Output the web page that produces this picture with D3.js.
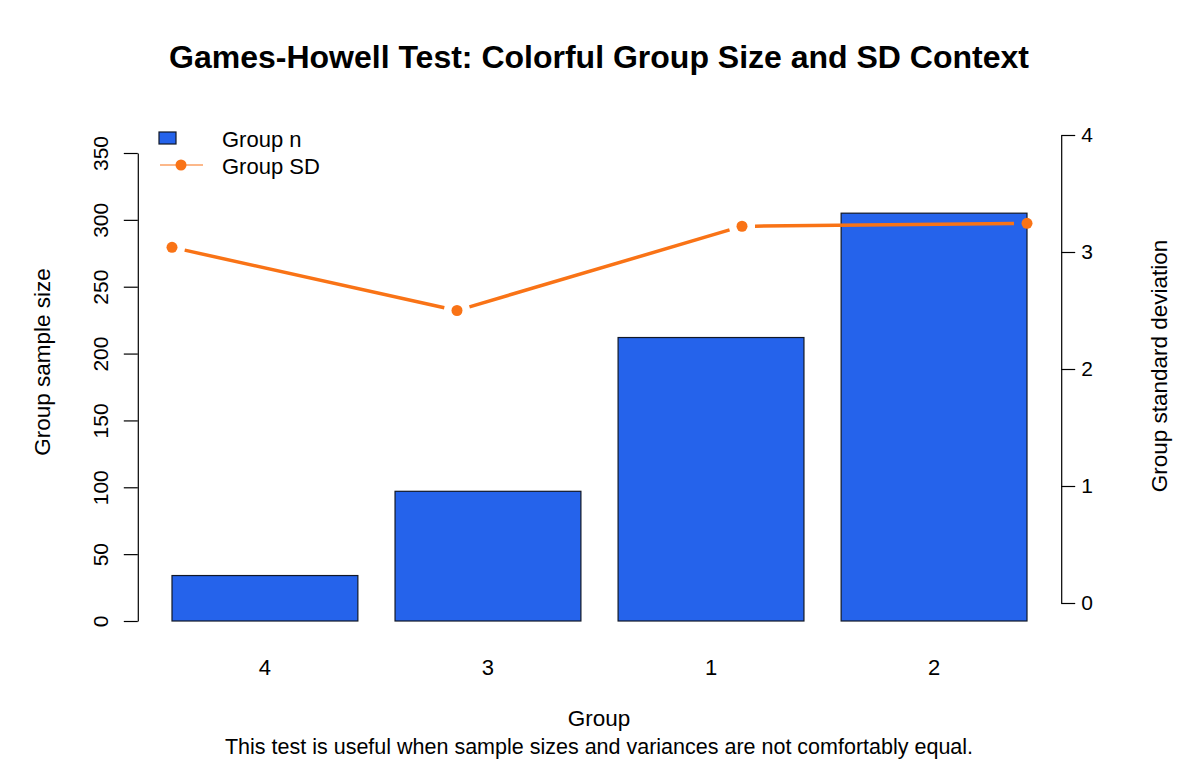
<!DOCTYPE html>
<html>
<head>
<meta charset="utf-8">
<script src="https://cdn.jsdelivr.net/npm/d3@7"></script>
<style>
  body { margin: 0; background: #fff; }
  svg { display: block; font-family: "Liberation Sans", Arial, sans-serif; }
</style>
</head>
<body>
<svg width="1200" height="760"></svg>
<script>
// data
var groups = ["4", "3", "1", "2"];
var groupN = [34, 97, 212, 305];
var groupSD = [3.04, 2.50, 3.22, 3.245];
var nTicks = [0, 50, 100, 150, 200, 250, 300, 350];
var sdTicks = [0, 1, 2, 3, 4];

var barColor = "#2563EB";
var lineColor = "#F97316";

var svg = d3.select("svg");

// plot region, barplot-style coordinates (bars at 0.2 + i*1.2, width 1)
var x = d3.scaleLinear().domain([0.016, 4.984]).range([137.8, 1061.2]);
var xSD = d3.scaleLinear().domain([0.88, 4.12]).range([137.8, 1061.2]);
var yN = d3.scaleLinear().domain([0, 350]).range([621, 153]);
var ySD = d3.scaleLinear().domain([0, 4]).range([603, 135]);

// bars
svg.append("g")
    .attr("class", "bars")
    .selectAll("rect")
    .data(groupN)
    .enter().append("rect")
        .attr("x", function(d, i) { return x(0.2 + i * 1.2); })
        .attr("width", function(d, i) { return x(1.2 + i * 1.2) - x(0.2 + i * 1.2); })
        .attr("y", function(d) { return yN(d); })
        .attr("height", function(d) { return yN(0) - yN(d); })
        .attr("fill", barColor)
        .attr("stroke", "#111827")
        .attr("stroke-width", 1.2);

// left axis
var gL = svg.append("g")
    .attr("transform", "translate(" + x.range()[0] + ",0)")
    .call(d3.axisLeft(yN).tickValues(nTicks).tickSize(14).tickPadding(0).tickSizeOuter(0));
gL.select(".domain").attr("stroke", "#000").attr("stroke-width", 1.2);
gL.selectAll(".tick line").attr("stroke", "#000").attr("stroke-width", 1.2);
gL.selectAll(".tick text")
    .attr("font-size", 21)
    .attr("fill", "#000")
    .attr("text-anchor", "middle")
    .attr("transform", "translate(-37,0) rotate(-90)")
    .attr("x", 0)
    .attr("dy", "0.35em");

// right axis
var gR = svg.append("g")
    .attr("transform", "translate(" + x.range()[1] + ",0)")
    .call(d3.axisRight(ySD).tickValues(sdTicks).tickFormat(d3.format("d"))
        .tickSize(14).tickPadding(6).tickSizeOuter(0));
gR.select(".domain").attr("stroke", "#000").attr("stroke-width", 1.2);
gR.selectAll(".tick line").attr("stroke", "#000").attr("stroke-width", 1.2);
gR.selectAll(".tick text").attr("font-size", 21).attr("fill", "#000");

// x category labels
svg.append("g")
    .selectAll("text")
    .data(groups)
    .enter().append("text")
        .attr("x", function(d, i) { return x(0.7 + i * 1.2); })
        .attr("y", 675)
        .attr("text-anchor", "middle")
        .attr("font-size", 22)
        .text(function(d) { return d; });

// SD line with gaps around points (type = "b")
var pts = groupSD.map(function(d, i) { return [xSD(i + 1), ySD(d)]; });
var gap = 13;
var segs = [];
for (var i = 0; i < pts.length - 1; i++) {
    var a = pts[i], b = pts[i + 1];
    var dx = b[0] - a[0], dy = b[1] - a[1];
    var len = Math.sqrt(dx * dx + dy * dy);
    var ux = dx / len, uy = dy / len;
    segs.push([[a[0] + ux * gap, a[1] + uy * gap], [b[0] - ux * gap, b[1] - uy * gap]]);
}
svg.append("g")
    .selectAll("line")
    .data(segs)
    .enter().append("line")
        .attr("x1", function(d) { return d[0][0]; })
        .attr("y1", function(d) { return d[0][1]; })
        .attr("x2", function(d) { return d[1][0]; })
        .attr("y2", function(d) { return d[1][1]; })
        .attr("stroke", lineColor)
        .attr("stroke-width", 3.5);
svg.append("g")
    .selectAll("circle")
    .data(pts)
    .enter().append("circle")
        .attr("cx", function(d) { return d[0]; })
        .attr("cy", function(d) { return d[1]; })
        .attr("r", 5.5)
        .attr("fill", lineColor);

// titles
svg.append("text")
    .attr("x", 599)
    .attr("y", 68)
    .attr("text-anchor", "middle")
    .attr("font-size", 32)
    .attr("font-weight", "bold")
    .text("Games-Howell Test: Colorful Group Size and SD Context");

svg.append("text")
    .attr("x", 599)
    .attr("y", 726)
    .attr("text-anchor", "middle")
    .attr("font-size", 22.5)
    .text("Group");

svg.append("text")
    .attr("x", 599)
    .attr("y", 754)
    .attr("text-anchor", "middle")
    .attr("font-size", 21.5)
    .text("This test is useful when sample sizes and variances are not comfortably equal.");

svg.append("text")
    .attr("transform", "translate(50,362) rotate(-90)")
    .attr("text-anchor", "middle")
    .attr("font-size", 22.5)
    .text("Group sample size");

svg.append("text")
    .attr("transform", "translate(1167,366) rotate(-90)")
    .attr("text-anchor", "middle")
    .attr("font-size", 22.5)
    .text("Group standard deviation");

// legend
var lg = svg.append("g").attr("class", "legend");
lg.append("rect")
    .attr("x", 159).attr("y", 132)
    .attr("width", 17).attr("height", 12)
    .attr("fill", barColor)
    .attr("stroke", "#111827")
    .attr("stroke-width", 1.2);
lg.append("line")
    .attr("x1", 160).attr("x2", 203)
    .attr("y1", 165).attr("y2", 165)
    .attr("stroke", lineColor)
    .attr("stroke-width", 1.2);
lg.append("circle")
    .attr("cx", 181).attr("cy", 165).attr("r", 5.5)
    .attr("fill", lineColor);
lg.append("text")
    .attr("x", 222).attr("y", 147)
    .attr("font-size", 22)
    .text("Group n");
lg.append("text")
    .attr("x", 222).attr("y", 174)
    .attr("font-size", 22)
    .text("Group SD");
</script>
</body>
</html>
